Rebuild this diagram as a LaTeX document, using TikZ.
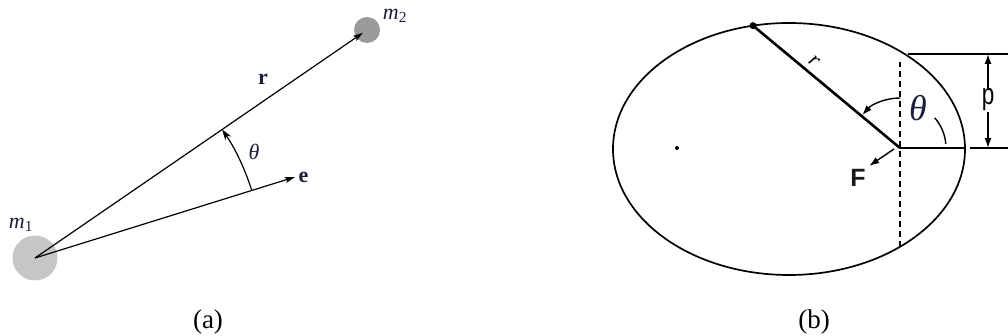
\documentclass[tikz,border=0pt]{standalone}
\usepackage{fontspec}
\setmainfont{Liberation Serif}
\setsansfont{Liberation Sans}
\usepackage{xcolor}
\usetikzlibrary{positioning, arrows.meta, calc}
\definecolor{massgray}{HTML}{C6C6C8}
\definecolor{massdark}{HTML}{9A9A9C}
\definecolor{inkblue}{HTML}{1B1F3B}

\begin{document}
\begin{tikzpicture}[x=1pt, y=1pt,
  mass/.style={circle, fill=#1, inner sep=0pt},
  vec/.style={line width=1.2pt, -{Stealth[length=10pt, width=6pt, inset=2pt]}},
  lbl/.style={font=\fontsize{22}{22}\selectfont, text=inkblue},
  caption/.style={font=\fontsize{27}{27}\selectfont},
  orbit/.style={line width=1.7pt},
  dimline/.style={line width=1.4pt},
  dot/.style={circle, fill, inner sep=0pt, minimum size=#1},
]
\useasboundingbox (0,0) rectangle (1008,336);

% Panel (a)
\node[mass=massgray, minimum size=45pt] (m1) at (35,78) {};
\node[mass=massdark, minimum size=26pt] (m2) at (367,306) {};
\coordinate (etip) at (295,159);
\draw[vec, shorten >=5pt] (m1.center) -- (m2.center);
\draw[vec] (m1.center) -- (etip);
\draw[line width=1.2pt, -{Stealth[length=11pt, width=7pt]}]
  ($(m1.center)+(17.3:227)$) arc[start angle=17.3, end angle=34.5, radius=227];
\node[lbl] (m1lbl) at (21,111) {\textit{m}\textsubscript{1}};
\node[lbl] (m2lbl) at (395,320) {\textit{m}\textsubscript{2}};
\node[lbl] (rlbla) at (263,257) {\textbf{r}};
\node[lbl] (thlbla) at (254,184) {\textit{θ}};
\node[lbl, right=0pt of etip] (elbl) {\textbf{e}};
\node[caption] (capa) at (208,14) {(a)};

% Panel (b)
\coordinate (ec) at (789,187);
\coordinate (F) at (900,188);
\draw[orbit] (ec) ellipse [x radius=176, y radius=126];
\node[dot=7pt] (body) at ($(ec)+(101.8:176 and 126)$) {};
\node[dot=4pt] (focus2) at (677,188) {};
\draw[line width=2.6pt] (F) -- (body.center);
\coordinate (dashtop) at (900,274);
\coordinate (dashbot) at (900,89);
\draw[line width=1.4pt, dash pattern=on 6pt off 4pt] (dashbot) -- (dashtop);
\coordinate (peri) at (965,188);
\draw[orbit] (F) -- (peri);
\coordinate (toplineA) at (908,282);
\coordinate (toplineB) at (1008,282);
\coordinate (botlineA) at (970,188);
\coordinate (botlineB) at (1008,188);
\draw[dimline] (toplineA) -- (toplineB);
\draw[dimline] (botlineA) -- (botlineB);
\node[font=\sffamily\fontsize{30}{30}\selectfont, inner sep=1pt, xscale=0.75] (plbl) at (988,236) {p};
\draw[dimline, -{Latex[length=10pt, width=7pt]}] (plbl.north) -- (plbl.north |- toplineA);
\draw[dimline, -{Latex[length=10pt, width=7pt]}] (plbl.south) -- (plbl.south |- botlineA);
\draw[line width=1.4pt] ($(F)+(5:46)$) arc[start angle=5, end angle=41, radius=46];
\draw[line width=1.4pt, -{Latex[length=10pt, width=7pt]}]
  ($(F)+(90:50)$) arc[start angle=90, end angle=139, radius=50];
\node[font=\itshape\fontsize{36}{36}\selectfont, text=inkblue] (thlblb) at (918,228) {θ};
\node[font=\itshape\fontsize{22}{22}\selectfont, rotate=-39.7] (rlblb) at (814,275) {r};
\node[font=\sffamily\bfseries\fontsize{25}{25}\selectfont, text=black!90] (Flbl) at (858,158) {F};
\coordinate (Fgap) at (894,187);
\draw[line width=1.4pt, -{Latex[length=10pt, width=7pt]}] (Fgap) -- (Flbl.north east);
\node[caption] (capb) at (814,14) {(b)};

\end{tikzpicture}
\end{document}
